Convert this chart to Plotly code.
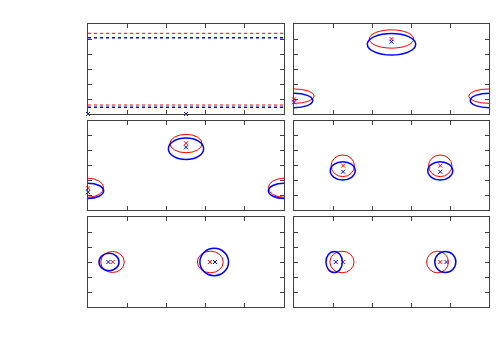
import plotly.graph_objects as go

# ---- data ----
# panel 1: horizontal contour lines (y levels) and centres
p1_red_levels = [5.38, 0.60]
p1_blue_levels = [5.09, 0.45]
p1_red_mx = [0.0, 2.5]; p1_red_my = [0.0, 0.0]
p1_blue_mx = [0.0, 2.5]; p1_blue_my = [0.0, 0.0]

# panels 2-6: contour ellipses (centre x, centre y, half width, half height)
p2_red = dict(cx=[2.5, 0.0, 5.0], cy=[5.00, 1.19, 1.19], rx=[0.57, 0.52, 0.52], ry=[0.61, 0.48, 0.48])
p2_blue = dict(cx=[2.5, 0.0, 5.0], cy=[4.65, 0.90, 0.90], rx=[0.62, 0.48, 0.48], ry=[0.72, 0.48, 0.48])
p2_red_mx = [2.5, 0.0]; p2_red_my = [5.00, 0.98]
p2_blue_mx = [2.5, 0.0]; p2_blue_my = [4.82, 0.78]

p3_red = dict(cx=[2.5, 0.0, 5.0], cy=[4.48, 1.50, 1.50], rx=[0.41, 0.40, 0.40], ry=[0.62, 0.64, 0.64])
p3_blue = dict(cx=[2.5, 0.0, 5.0], cy=[4.13, 1.29, 1.29], rx=[0.45, 0.40, 0.40], ry=[0.72, 0.51, 0.51])
p3_red_mx = [2.5, 0.0]; p3_red_my = [4.50, 1.47]
p3_blue_mx = [2.5, 0.0]; p3_blue_my = [4.23, 1.20]

p4_red = dict(cx=[1.25, 3.75], cy=[2.98, 2.98], rx=[0.30, 0.30], ry=[0.73, 0.73])
p4_blue = dict(cx=[1.25, 3.75], cy=[2.64, 2.64], rx=[0.32, 0.32], ry=[0.62, 0.62])
p4_red_mx = [1.26, 3.75]; p4_red_my = [2.99, 2.99]
p4_blue_mx = [1.26, 3.75]; p4_blue_my = [2.58, 2.58]

p5_red = dict(cx=[0.625, 3.12], cy=[3.0, 3.0], rx=[0.30, 0.33], ry=[0.70, 0.72])
p5_blue = dict(cx=[0.536, 3.22], cy=[3.0, 3.0], rx=[0.255, 0.365], ry=[0.58, 0.91])
p5_red_mx = [0.63, 3.11]; p5_red_my = [3.0, 3.0]
p5_blue_mx = [0.52, 3.24]; p5_blue_my = [3.0, 3.0]

p6_red = dict(cx=[1.23, 3.68], cy=[3.0, 3.0], rx=[0.31, 0.28], ry=[0.72, 0.72])
p6_blue = dict(cx=[1.03, 3.88], cy=[3.0, 3.0], rx=[0.21, 0.27], ry=[0.70, 0.70])
p6_red_mx = [1.26, 3.75]; p6_red_my = [3.0, 3.0]
p6_blue_mx = [1.07, 3.91]; p6_blue_my = [3.0, 3.0]

x_range = [0, 5]
y_range = [0, 6]

RED = "#ff0000"
BLUE = "#0000ff"

# page body has an 8px margin; figure sized to fit inside the window
OFF = 8
W, H = 500 - 2 * OFF, 350 - 2 * OFF


def dx(a, b):
    return [(a - OFF) / W, (b - OFF) / W]


def dy(top, bottom):
    return [1 - (bottom - OFF) / H, 1 - (top - OFF) / H]


domains_x = [dx(88, 284), dx(294, 489)]
domains_y = [dy(24, 114), dy(121, 210), dy(217, 307)]

fig = go.Figure()


def add_ellipses(params, color, width, idx):
    for cx, cy, rx, ry in zip(params["cx"], params["cy"], params["rx"], params["ry"]):
        fig.add_shape(type="circle", xref=f"x{idx}", yref=f"y{idx}",
                      x0=cx - rx, x1=cx + rx, y0=cy - ry, y1=cy + ry,
                      line=dict(color=color, width=width), fillcolor="rgba(0,0,0,0)")


def add_markers(mx, my, color, idx):
    fig.add_trace(go.Scatter(x=mx, y=my, mode="markers", cliponaxis=False,
                             marker=dict(symbol="x-thin", size=4, line=dict(color=color, width=1)),
                             xaxis=f"x{idx}", yaxis=f"y{idx}", showlegend=False))


# panel 1 lines
for lvl in p1_red_levels:
    fig.add_trace(go.Scatter(x=x_range, y=[lvl, lvl], mode="lines", line=dict(color=RED, width=1, dash="dot"),
                             xaxis="x", yaxis="y", showlegend=False))
for lvl in p1_blue_levels:
    fig.add_trace(go.Scatter(x=x_range, y=[lvl, lvl], mode="lines", line=dict(color=BLUE, width=1.5, dash="dot"),
                             xaxis="x", yaxis="y", showlegend=False))
add_markers(p1_red_mx, p1_red_my, RED, "")
add_markers(p1_blue_mx, p1_blue_my, BLUE, "")

panels = [
    (2, p2_red, p2_blue, p2_red_mx, p2_red_my, p2_blue_mx, p2_blue_my),
    (3, p3_red, p3_blue, p3_red_mx, p3_red_my, p3_blue_mx, p3_blue_my),
    (4, p4_red, p4_blue, p4_red_mx, p4_red_my, p4_blue_mx, p4_blue_my),
    (5, p5_red, p5_blue, p5_red_mx, p5_red_my, p5_blue_mx, p5_blue_my),
    (6, p6_red, p6_blue, p6_red_mx, p6_red_my, p6_blue_mx, p6_blue_my),
]
for idx, red, blue, rmx, rmy, bmx, bmy in panels:
    add_ellipses(red, RED, 1, idx)
    add_ellipses(blue, BLUE, 1.5, idx)
    add_markers(rmx, rmy, RED, idx)
    add_markers(bmx, bmy, BLUE, idx)

axis_style = dict(showline=True, linecolor="#404040", linewidth=1, mirror="ticks", ticks="inside",
                  ticklen=4, tickcolor="#404040", showticklabels=False, showgrid=False, zeroline=False,
                  dtick=1, tick0=0, fixedrange=True)

layout = dict(width=W, height=H, margin=dict(l=0, r=0, t=0, b=0),
              paper_bgcolor="white", plot_bgcolor="white", showlegend=False)
for i in range(6):
    row, col = divmod(i, 2)
    n = "" if i == 0 else str(i + 1)
    layout[f"xaxis{n}"] = dict(axis_style, domain=domains_x[col], range=x_range, anchor=f"y{n}")
    layout[f"yaxis{n}"] = dict(axis_style, domain=domains_y[row], range=y_range, anchor=f"x{n}")
fig.update_layout(**layout)

fig.write_html("out.html")
